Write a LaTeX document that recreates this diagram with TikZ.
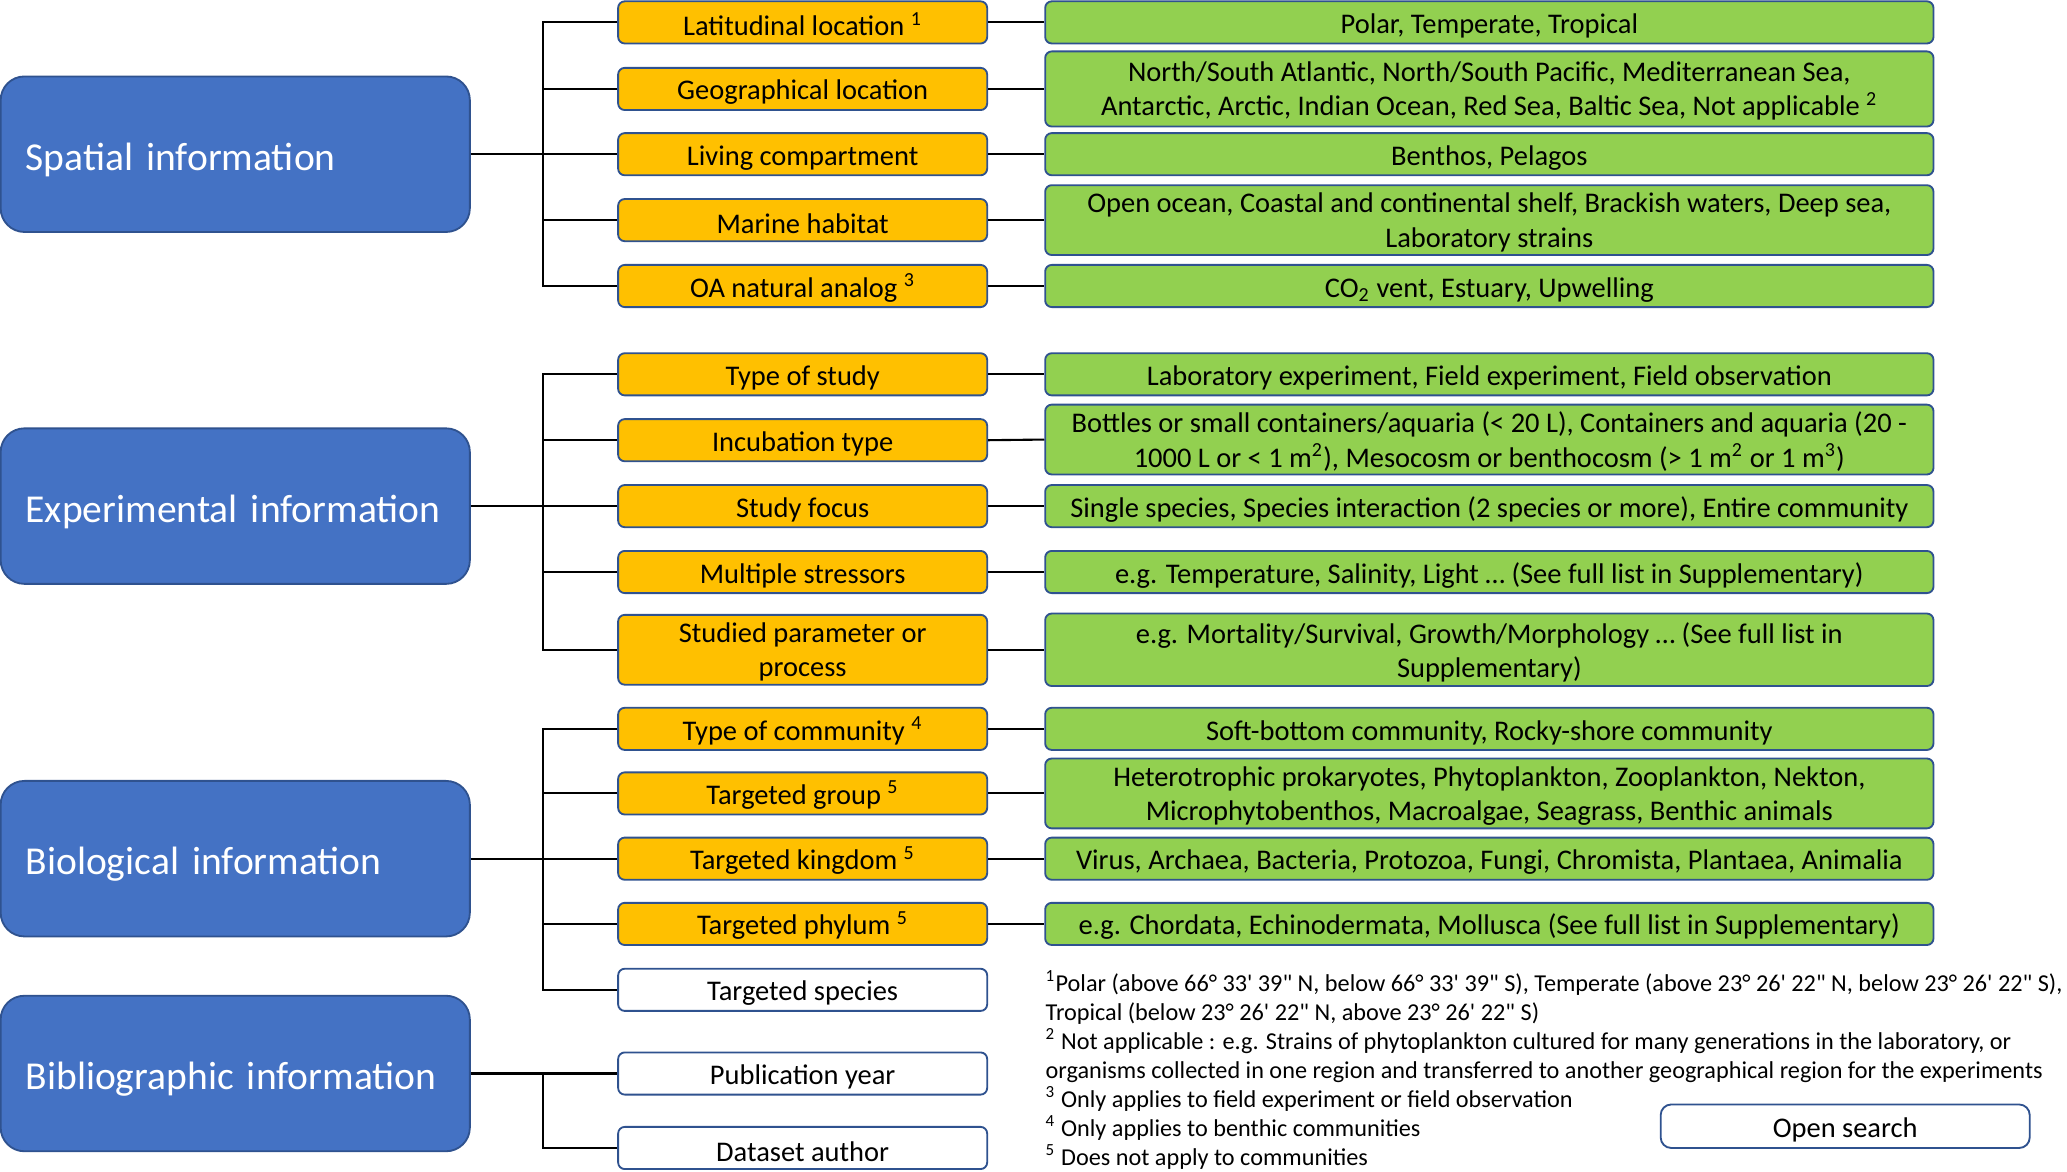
\documentclass[tikz,border=0pt]{standalone}
\usepackage{fontspec}
\setmainfont{Carlito}
\definecolor{blueface}{HTML}{4472C4}
\definecolor{blueedge}{HTML}{2F528F}
\definecolor{keyface}{HTML}{FFC000}
\definecolor{valface}{HTML}{92D050}
\newcommand{\dq}{\textquotedbl}
\newcommand{\sq}{\textquotesingle}
\newcommand{\flatline}[1]{\smash{#1}}
\tikzset{
  link/.style={line width=0.8pt},
  infobox/.style={draw=blueedge, line width=0.7pt, fill=blueface, rounded corners=9pt,
    text=white, minimum height=59pt, inner xsep=9.5pt, text width=159pt, align=left,
    font=\fontsize{15}{18}\selectfont, execute at begin node={\rule{0pt}{14.8pt}}},
  keybox/.style={draw=blueedge, line width=0.7pt, fill=keyface, rounded corners=2.5pt,
    minimum width=140pt, minimum height=16pt, inner sep=1pt, align=center,
    font=\fontsize{10.8}{13}\selectfont, execute at begin node={\rule{0pt}{10.2pt}}},
  plainbox/.style={keybox, fill=white},
  valbox/.style={keybox, fill=valface, minimum width=337pt},
  tall/.style={minimum height=26.5pt},
  notes/.style={inner sep=0pt, align=left, font=\fontsize{9.2}{11}\selectfont}
}
\begin{document}
\begin{tikzpicture}[x=0.5pt,y=0.5pt]
  \useasboundingbox (0,0) rectangle (1568.3,-888.5);
  % main categories
  \node[infobox] (spatial) at (178.5,-117) {Spatial information};
  \node[infobox] (experimental) at (178.5,-384) {Experimental information};
  \node[infobox] (biological) at (178.5,-651.5) {Biological information};
  \node[infobox] (biblio) at (178.5,-814.5) {Bibliographic information};

  % spatial information
  \node[keybox] (lat) at (609,-17) {Latitudinal location \textsuperscript{1}};
  \node[keybox] (geo) at (609,-67.5) {Geographical location};
  \node[keybox] (comp) at (609,-117) {Living compartment};
  \node[keybox] (habitat) at (609,-167) {Marine habitat};
  \node[keybox] (analog) at (609,-217) {OA natural analog \textsuperscript{3}};
  \node[valbox] (latv) at (1130,-17) {Polar, Temperate, Tropical};
  \node[valbox,minimum height=28.5pt] (geov) at (1130,-67.5) {North/South Atlantic, North/South Pacific, Mediterranean Sea,\\\flatline{Antarctic, Arctic, Indian Ocean, Red Sea, Baltic Sea, Not applicable \textsuperscript{2}}};
  \node[valbox] (compv) at (1130,-117) {Benthos, Pelagos};
  \node[valbox,tall] (habitatv) at (1130,-167) {Open ocean, Coastal and continental shelf, Brackish waters, Deep sea,\\\flatline{Laboratory strains}};
  \node[valbox] (analogv) at (1130,-217) {CO\textsubscript{2} vent, Estuary, Upwelling};

  % experimental information
  \node[keybox] (studytype) at (609,-284) {Type of study};
  \node[keybox] (incub) at (609,-334) {Incubation type};
  \node[keybox] (focus) at (609,-384) {Study focus};
  \node[keybox] (stressors) at (609,-434) {Multiple stressors};
  \node[keybox,tall] (param) at (609,-493) {Studied parameter or\\\flatline{process}};
  \node[valbox] (studytypev) at (1130,-284) {Laboratory experiment, Field experiment, Field observation};
  \node[valbox,tall] (incubv) at (1130,-333.5) {Bottles or small containers/aquaria (< 20 L), Containers and aquaria (20 -\\\flatline{1000 L or < 1 m\textsuperscript{2}), Mesocosm or benthocosm (> 1 m\textsuperscript{2} or 1 m\textsuperscript{3})}};
  \node[valbox] (focusv) at (1130,-384) {Single species, Species interaction (2 species or more), Entire community};
  \node[valbox] (stressorsv) at (1130,-434) {e.g. Temperature, Salinity, Light … (See full list in Supplementary)};
  \node[valbox,minimum height=27.5pt] (paramv) at (1130,-493) {e.g. Mortality/Survival, Growth/Morphology … (See full list in\\\flatline{Supplementary)}};

  % biological information
  \node[keybox] (community) at (609,-553) {Type of community \textsuperscript{4}};
  \node[keybox] (group) at (609,-602) {Targeted group \textsuperscript{5}};
  \node[keybox] (kingdom) at (609,-651.5) {Targeted kingdom \textsuperscript{5}};
  \node[keybox] (phylum) at (609,-701) {Targeted phylum \textsuperscript{5}};
  \node[plainbox] (species) at (609,-751) {Targeted species};
  \node[valbox] (communityv) at (1130,-553) {Soft-bottom community, Rocky-shore community};
  \node[valbox,tall] (groupv) at (1130,-602) {Heterotrophic prokaryotes, Phytoplankton, Zooplankton, Nekton,\\\flatline{Microphytobenthos, Macroalgae, Seagrass, Benthic animals}};
  \node[valbox] (kingdomv) at (1130,-651.5) {Virus, Archaea, Bacteria, Protozoa, Fungi, Chromista, Plantaea, Animalia};
  \node[valbox] (phylumv) at (1130,-701) {e.g. Chordata, Echinodermata, Mollusca (See full list in Supplementary)};

  % bibliographic information
  \node[plainbox] (year) at (609,-814.5) {Publication year};
  \node[plainbox] (author) at (609,-871) {Dataset author};

  % footnotes and search
  \node[notes,anchor=north west] (notes) at (793,-736) {\textsuperscript{1}Polar (above 66° 33\sq{} 39\dq{} N, below 66° 33\sq{} 39\dq{} S), Temperate (above 23° 26\sq{} 22\dq{} N, below 23° 26\sq{} 22\dq{} S),\\
    Tropical (below 23° 26\sq{} 22\dq{} N, above 23° 26\sq{} 22\dq{} S)\\
    \textsuperscript{2} Not applicable : e.g. Strains of phytoplankton cultured for many generations in the laboratory, or\\
    organisms collected in one region and transferred to another geographical region for the experiments\\
    \textsuperscript{3} Only applies to field experiment or field observation\\
    \textsuperscript{4} Only applies to benthic communities\\
    \textsuperscript{5} Does not apply to communities};
  \node[plainbox,rounded corners=4pt,minimum height=16.5pt] (search) at (1400,-854.5) {Open search};

  % brackets
  \coordinate (sj) at (412,-117);
  \coordinate (ej) at (412,-384);
  \coordinate (bj) at (412,-651.5);
  \coordinate (bbj) at (412,-814.5);
  \draw[link] (spatial.east) -- (comp.west);
  \draw[link] (lat.west) -| (sj) |- (analog.west);
  \draw[link] (geo.west) -- (geo.west -| sj);
  \draw[link] (habitat.west) -- (habitat.west -| sj);
  \draw[link] (experimental.east) -- (focus.west);
  \draw[link] (studytype.west) -| (ej) |- (param.west);
  \draw[link] (incub.west) -- (incub.west -| ej);
  \draw[link] (stressors.west) -- (stressors.west -| ej);
  \draw[link] (biological.east) -- (kingdom.west);
  \draw[link] (community.west) -| (bj) |- (species.west);
  \draw[link] (group.west) -- (group.west -| bj);
  \draw[link] (phylum.west) -- (phylum.west -| bj);
  \draw[link] (biblio.east) -- (year.west);
  \draw[link] (bbj) |- (author.west);

  % fields to values
  \draw[link] (lat.east) -- (latv.west);
  \draw[link] (geo.east) -- (geov.west);
  \draw[link] (comp.east) -- (compv.west);
  \draw[link] (habitat.east) -- (habitatv.west);
  \draw[link] (analog.east) -- (analogv.west);
  \draw[link] (studytype.east) -- (studytypev.west);
  \draw[link] (incub.east) -- (incubv.west);
  \draw[link] (focus.east) -- (focusv.west);
  \draw[link] (stressors.east) -- (stressorsv.west);
  \draw[link] (param.east) -- (paramv.west);
  \draw[link] (community.east) -- (communityv.west);
  \draw[link] (group.east) -- (groupv.west);
  \draw[link] (kingdom.east) -- (kingdomv.west);
  \draw[link] (phylum.east) -- (phylumv.west);
\end{tikzpicture}
\end{document}
